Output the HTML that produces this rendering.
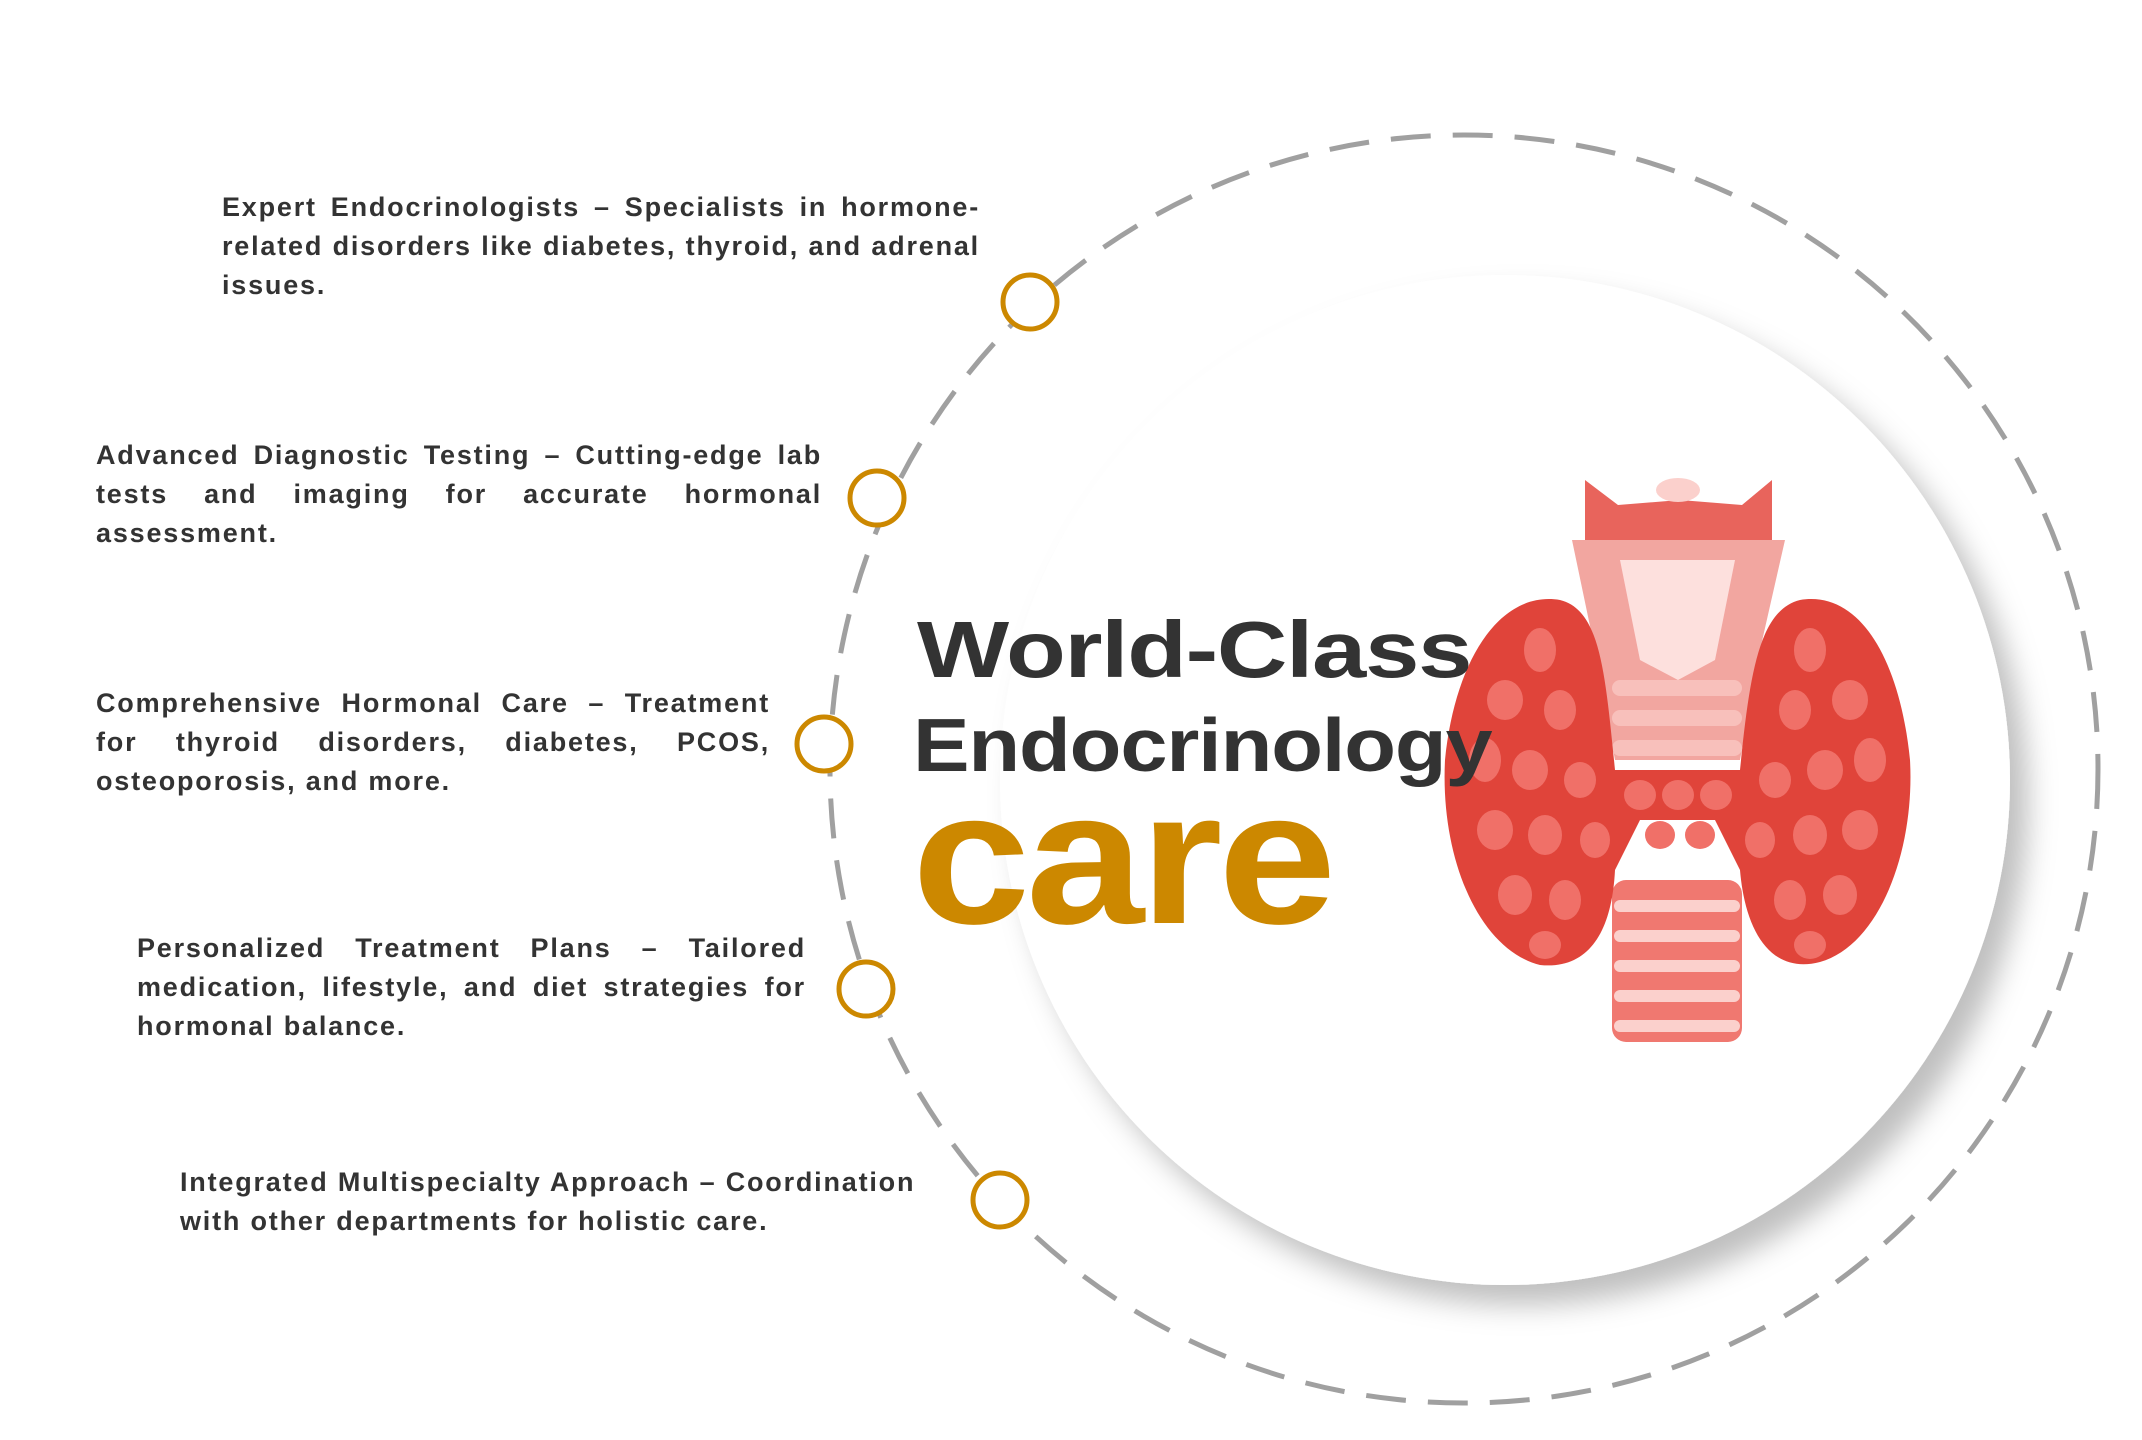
<!DOCTYPE html>
<html><head><meta charset="utf-8">
<style>
html,body{margin:0;padding:0;background:#fff;}
body{width:2142px;height:1440px;position:relative;overflow:hidden;font-family:"Liberation Sans",Arial,sans-serif;}
svg{position:absolute;left:0;top:0;}
.blk{position:absolute;color:#333;font-weight:bold;font-size:27px;letter-spacing:1.8px;line-height:39px;}
.blk div{text-align:justify;text-align-last:justify;white-space:nowrap;}
.blk div.l{text-align-last:left;}
.h{position:absolute;color:#333;font-weight:bold;white-space:nowrap;transform-origin:0 0;}
</style></head><body>
<svg width="2142" height="1440" viewBox="0 0 2142 1440">
<defs>
<filter id="sh" x="-20%" y="-20%" width="150%" height="150%">
<feDropShadow dx="18" dy="20" stdDeviation="14" flood-color="#000" flood-opacity="0.25"/>
</filter>
</defs>
<circle cx="1464" cy="769" r="634" fill="none" stroke="#a0a0a0" stroke-width="5" stroke-dasharray="40 22"/>
<circle cx="1505" cy="780" r="505" fill="#fff" filter="url(#sh)"/>
<g fill="#fff" stroke="#cc8800" stroke-width="5">
<circle cx="1030" cy="302" r="27"/>
<circle cx="877" cy="498" r="27"/>
<circle cx="824" cy="744" r="27"/>
<circle cx="866" cy="989" r="27"/>
<circle cx="1000" cy="1200" r="27"/>
</g>
<g>
<rect x="1612" y="880" width="130" height="162" rx="14" fill="#f07870"/>
<g fill="#fbd0cc"><rect x="1614" y="900" width="126" height="12" rx="6"/><rect x="1614" y="930" width="126" height="12" rx="6"/><rect x="1614" y="960" width="126" height="12" rx="6"/><rect x="1614" y="990" width="126" height="12" rx="6"/><rect x="1614" y="1020" width="126" height="12" rx="6"/></g>
<path d="M1585 480 L1618 505 L1680 500 L1742 505 L1772 480 L1772 545 L1678 570 L1585 545Z" fill="#e8645c"/>
<ellipse cx="1678" cy="490" rx="22" ry="12" fill="#fbd0cc"/>
<path d="M1572 540 L1785 540 L1760 650 L1740 760 L1615 760 L1595 650Z" fill="#f2a6a0"/>
<path d="M1620 560 L1735 560 L1715 660 L1678 680 L1640 660Z" fill="#fde0dd"/>
<g fill="#f8c0bb"><rect x="1612" y="680" width="130" height="16" rx="8"/><rect x="1612" y="710" width="130" height="16" rx="8"/><rect x="1612" y="740" width="130" height="16" rx="8"/></g>
<path d="M1560 600 C1500 590 1455 660 1445 760 C1440 860 1480 950 1540 965 C1590 970 1612 930 1615 870 L1640 820 L1715 820 L1740 870 C1745 930 1770 975 1820 962 C1880 945 1915 850 1910 760 C1900 660 1860 590 1800 600 C1760 610 1750 670 1740 770 L1615 770 C1605 670 1600 610 1560 600Z" fill="#e0443a"/>
<g fill="#f07068">
<ellipse cx="1540" cy="650" rx="16" ry="22"/><ellipse cx="1505" cy="700" rx="18" ry="20"/><ellipse cx="1560" cy="710" rx="16" ry="20"/><ellipse cx="1485" cy="760" rx="16" ry="22"/><ellipse cx="1530" cy="770" rx="18" ry="20"/><ellipse cx="1580" cy="780" rx="16" ry="18"/><ellipse cx="1495" cy="830" rx="18" ry="20"/><ellipse cx="1545" cy="835" rx="17" ry="20"/><ellipse cx="1595" cy="840" rx="15" ry="18"/><ellipse cx="1515" cy="895" rx="17" ry="20"/><ellipse cx="1565" cy="900" rx="16" ry="20"/><ellipse cx="1545" cy="945" rx="16" ry="14"/>
<ellipse cx="1810" cy="650" rx="16" ry="22"/><ellipse cx="1850" cy="700" rx="18" ry="20"/><ellipse cx="1795" cy="710" rx="16" ry="20"/><ellipse cx="1870" cy="760" rx="16" ry="22"/><ellipse cx="1825" cy="770" rx="18" ry="20"/><ellipse cx="1775" cy="780" rx="16" ry="18"/><ellipse cx="1860" cy="830" rx="18" ry="20"/><ellipse cx="1810" cy="835" rx="17" ry="20"/><ellipse cx="1760" cy="840" rx="15" ry="18"/><ellipse cx="1840" cy="895" rx="17" ry="20"/><ellipse cx="1790" cy="900" rx="16" ry="20"/><ellipse cx="1810" cy="945" rx="16" ry="14"/>
<ellipse cx="1640" cy="795" rx="16" ry="15"/><ellipse cx="1678" cy="795" rx="16" ry="15"/><ellipse cx="1716" cy="795" rx="16" ry="15"/><ellipse cx="1660" cy="835" rx="15" ry="14"/><ellipse cx="1700" cy="835" rx="15" ry="14"/>
</g>
</g>
</svg>

<div class="h" style="left:917px;top:604px;font-size:80px;line-height:92px;letter-spacing:-1px;transform:scaleX(1.22);">World-Class</div>
<div class="h" style="left:913px;top:702px;font-size:75px;line-height:86px;letter-spacing:-1px;transform:scaleX(1.13);">Endocrinology</div>
<div class="h" style="left:912px;top:758px;font-size:190px;line-height:200px;letter-spacing:-4px;color:#cc8800;transform:scaleX(1.12);">care</div>

<div class="blk" style="left:222px;top:188px;width:758px;">
<div>Expert Endocrinologists – Specialists in hormone-</div>
<div>related disorders like diabetes, thyroid, and adrenal</div>
<div class="l">issues.</div>
</div>
<div class="blk" style="left:96px;top:436px;width:726px;">
<div>Advanced Diagnostic Testing – Cutting-edge lab</div>
<div>tests and imaging for accurate hormonal</div>
<div class="l">assessment.</div>
</div>
<div class="blk" style="left:96px;top:684px;width:674px;">
<div>Comprehensive Hormonal Care – Treatment</div>
<div>for thyroid disorders, diabetes, PCOS,</div>
<div class="l">osteoporosis, and more.</div>
</div>
<div class="blk" style="left:137px;top:929px;width:669px;">
<div>Personalized Treatment Plans – Tailored</div>
<div>medication, lifestyle, and diet strategies for</div>
<div class="l">hormonal balance.</div>
</div>
<div class="blk" style="left:180px;top:1163px;width:752px;">
<div class="l">Integrated Multispecialty Approach – Coordination</div>
<div class="l">with other departments for holistic care.</div>
</div>
</body></html>
